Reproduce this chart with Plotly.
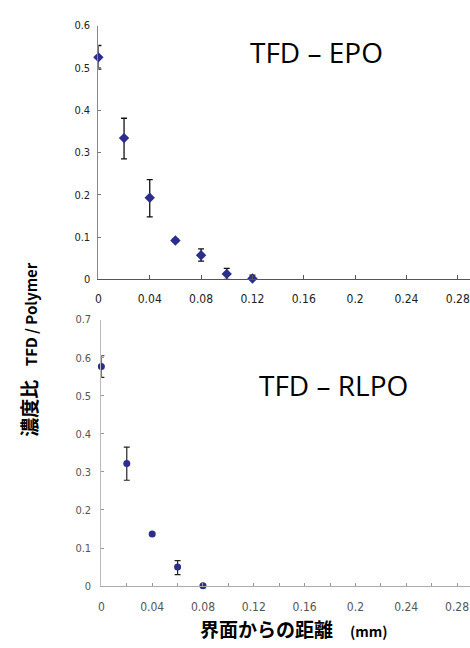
import plotly.graph_objects as go

# Top panel: TFD - EPO
x_epo = [0, 0.02, 0.04, 0.06, 0.08, 0.10, 0.12]
y_epo = [0.525, 0.334, 0.193, 0.092, 0.057, 0.013, 0.002]
err_up_epo = [0.028, 0.047, 0.043, 0.004, 0.015, 0.013, 0.008]
err_dn_epo = [0.028, 0.049, 0.045, 0.004, 0.014, 0.013, 0.002]

# Bottom panel: TFD - RLPO
x_rlpo = [0, 0.02, 0.04, 0.06, 0.08]
y_rlpo = [0.577, 0.322, 0.137, 0.050, 0.001]
err_up_rlpo = [0.028, 0.043, 0.003, 0.017, 0.002]
err_dn_rlpo = [0.029, 0.044, 0.003, 0.020, 0.001]

x_ticks = [0, 0.04, 0.08, 0.12, 0.16, 0.2, 0.24, 0.28]
x_tick_labels = ["0", "0.04", "0.08", "0.12", "0.16", "0.2", "0.24", "0.28"]
y_ticks_top = [0, 0.1, 0.2, 0.3, 0.4, 0.5, 0.6]
y_ticks_bot = [0, 0.1, 0.2, 0.3, 0.4, 0.5, 0.6, 0.7]

W, H = 470, 648
MARK = "#2b2e8a"
FAM = "Liberation Sans Narrow, DejaVu Sans Condensed, sans-serif"

fig = go.Figure()
fig.add_trace(go.Scatter(
    x=x_epo, y=y_epo, mode="markers", xaxis="x", yaxis="y",
    marker=dict(symbol="diamond", size=8, color=MARK),
    error_y=dict(type="data", symmetric=False, array=err_up_epo, arrayminus=err_dn_epo,
                 color="#111", thickness=1.3, width=3),
    cliponaxis=False, showlegend=False))
fig.add_trace(go.Scatter(
    x=x_rlpo, y=y_rlpo, mode="markers", xaxis="x2", yaxis="y2",
    marker=dict(symbol="circle", size=7, color=MARK),
    error_y=dict(type="data", symmetric=False, array=err_up_rlpo, arrayminus=err_dn_rlpo,
                 color="#222", thickness=1.2, width=3),
    cliponaxis=False, showlegend=False))

def px_x(p):
    return p / W

def px_y(p):
    return (H - p) / H

fig.update_layout(
    width=W, height=H, margin=dict(l=0, r=0, t=0, b=0, pad=0),
    paper_bgcolor="white", plot_bgcolor="white",
    xaxis=dict(domain=[px_x(96), 1.0], range=[0, 0.2895], anchor="y",
               tickvals=x_ticks, ticktext=x_tick_labels, ticks="inside", ticklen=4,
               tickcolor="#555", showline=True, linecolor="#555", linewidth=1,
               showgrid=False, zeroline=False,
               tickfont=dict(family=FAM, size=12, color="#222"), ticklabelstandoff=8),
    yaxis=dict(domain=[px_y(279), px_y(20)], range=[0, 0.6], anchor="x",
               tickvals=y_ticks_top, ticks="inside", ticklen=3,
               tickcolor="#777", showline=True, linecolor="#888", linewidth=1,
               showgrid=False, zeroline=False,
               tickfont=dict(family=FAM, size=11, color="#222"), ticklabelstandoff=5),
    xaxis2=dict(domain=[px_x(99), 1.0], range=[0, 0.2902], anchor="y2",
                tickvals=x_ticks, ticktext=x_tick_labels, ticks="inside", ticklen=3,
                tickcolor="#999", showline=True, linecolor="#aaa", linewidth=1,
                minor=dict(dtick=0.02, tick0=0, ticks="inside", ticklen=3, tickcolor="#999"),
                showgrid=False, zeroline=False,
                tickfont=dict(family=FAM, size=12, color="#555"), ticklabelstandoff=9),
    yaxis2=dict(domain=[px_y(592), px_y(320)], range=[0, 0.7], anchor="x2",
                tickvals=y_ticks_bot, ticks="inside", ticklen=3,
                tickcolor="#999", showline=True, linecolor="#bbb", linewidth=1,
                showgrid=False, zeroline=False,
                tickfont=dict(family=FAM, size=11, color="#555"), ticklabelstandoff=7),
)

fig.add_annotation(text="TFD – EPO", xref="paper", yref="paper",
                   x=px_x(316), y=px_y(47), xanchor="center", yanchor="middle", showarrow=False,
                   font=dict(family="Open Sans, sans-serif", size=28, color="#000"))
fig.add_annotation(text="TFD – RLPO", xref="paper", yref="paper",
                   x=px_x(333), y=px_y(387), xanchor="center", yanchor="middle", showarrow=False,
                   font=dict(family="Open Sans, sans-serif", size=28, color="#000"))

fig.add_annotation(
    text="<b><span style='font-size:19px'>濃度比</span>    TFD / Polymer</b>",
    xref="paper", yref="paper", x=px_x(26), y=px_y(350), xanchor="center", yanchor="middle",
    textangle=-90, showarrow=False,
    font=dict(family="Noto Sans CJK JP, Open Sans, sans-serif", size=15, color="#000"))
fig.add_annotation(
    text="<b>界面からの距離</b>    <b><span style='font-size:14px'>(mm)</span></b>",
    xref="paper", yref="paper", x=px_x(293), y=px_y(635), xanchor="center", yanchor="middle",
    showarrow=False,
    font=dict(family="Noto Sans CJK JP, Open Sans, sans-serif", size=19, color="#000"))

POST = (
    "var d=document.getElementById('{plot_id}');"
    "d.style.position='fixed';d.style.top='0px';d.style.left='0px';"
    "document.body.style.margin='0';document.body.style.padding='0';"
    "document.body.style.overflow='hidden';document.documentElement.style.overflow='hidden';"
)
fig.write_html("out.html", config={"displayModeBar": False}, post_script=POST)
